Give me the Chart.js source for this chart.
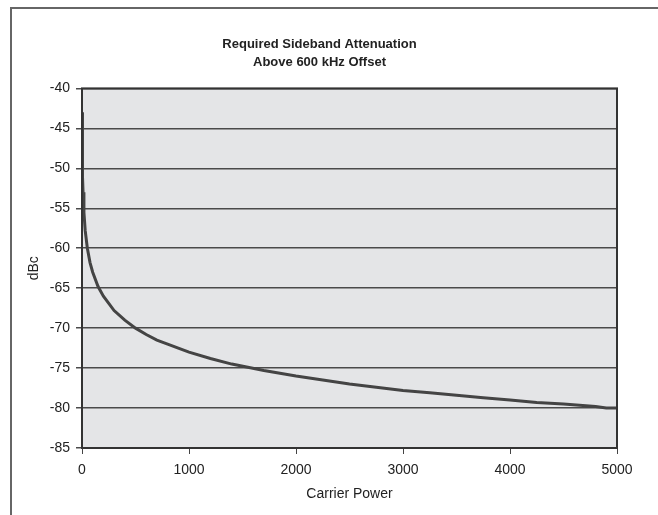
<!DOCTYPE html>
<html>
<head>
<meta charset="utf-8">
<script src="https://cdn.jsdelivr.net/npm/chart.js@4"></script>
<style>
  html, body { margin: 0; padding: 0; background: #fff; overflow: hidden; }
  #frame { position: absolute; left: 10px; top: 7px; width: 700px; height: 600px;
           border-left: 2px solid #666; border-top: 2px solid #666; }
  #chart { position: absolute; left: 0; top: 0; }
</style>
</head>
<body>
<div id="frame"></div>
<canvas id="chart" width="658" height="515"></canvas>
<script>
// carrier power (x) and required attenuation in dBc (y)
const power = [1, 3, 6, 10, 18, 30, 50, 75, 100, 150, 200, 300, 400, 500, 600, 700, 800, 900,
               1000, 1200, 1400, 1700, 2000, 2250, 2500, 2750, 3000, 3250, 3500, 3750,
               4000, 4250, 4500, 4800, 4900, 5000];
const attenuation = [-43, -48, -51, -53, -55.5, -57.8, -60, -61.8, -63, -64.8, -66, -67.8, -69, -70, -70.8, -71.5, -72, -72.5,
                     -73, -73.8, -74.5, -75.3, -76, -76.5, -77, -77.4, -77.8, -78.1, -78.4, -78.7,
                     -79, -79.3, -79.5, -79.8, -80, -80];
const titleLines = ['Required Sideband Attenuation', 'Above 600 kHz Offset'];

const font = "'Liberation Sans', Arial, sans-serif";

// gray plot area + dark frame around it
const plotBox = {
  id: 'plotBox',
  beforeDraw(chart) {
    const a = chart.chartArea, c = chart.ctx;
    c.save();
    c.fillStyle = '#e4e5e7';
    c.fillRect(a.left, a.top, a.right - a.left, a.bottom - a.top);
    c.restore();
  },
  afterDraw(chart) {
    const a = chart.chartArea, c = chart.ctx;
    c.save();
    c.strokeStyle = '#333';
    c.lineWidth = 2;
    c.strokeRect(a.left, a.top, a.right - a.left, a.bottom - a.top);
    c.restore();
  }
};

new Chart(document.getElementById('chart'), {
  type: 'line',
  data: {
    datasets: [{
      data: power.map((p, i) => ({ x: p, y: attenuation[i] })),
      borderColor: '#444',
      borderWidth: 3,
      pointRadius: 0,
      tension: 0
    }]
  },
  options: {
    responsive: false,
    animation: false,
    layout: { padding: { left: 22, right: 41, top: 0, bottom: 8 } },
    plugins: {
      legend: { display: false },
      tooltip: { enabled: false },
      title: {
        display: true,
        text: titleLines,
        color: '#222',
        font: { family: font, size: 13, weight: 'bold', lineHeight: 1.4 },
        padding: { top: 35, bottom: 17 }
      }
    },
    scales: {
      x: {
        type: 'linear',
        min: 0, max: 5000,
        ticks: { stepSize: 1000, color: '#222', font: { family: font, size: 14 }, padding: 8, maxRotation: 0,
                 callback: v => String(v) },
        grid: { drawOnChartArea: false, drawTicks: true, tickLength: 6, color: '#444', lineWidth: 1 },
        border: { display: false },
        title: { display: true, text: 'Carrier Power', color: '#222', font: { family: font, size: 14 } },
        afterFit(s) { s.height = 59; }
      },
      y: {
        min: -85, max: -40,
        ticks: { stepSize: 5, color: '#222', font: { family: font, size: 14 }, padding: 6 },
        grid: { color: '#4a4a4a', lineWidth: 1.5, tickLength: 6 },
        border: { display: false },
        title: { display: true, text: 'dBc', color: '#222', font: { family: font, size: 14 } },
        afterFit(s) { s.width = 60; }
      }
    }
  },
  plugins: [plotBox]
});
</script>
</body>
</html>
